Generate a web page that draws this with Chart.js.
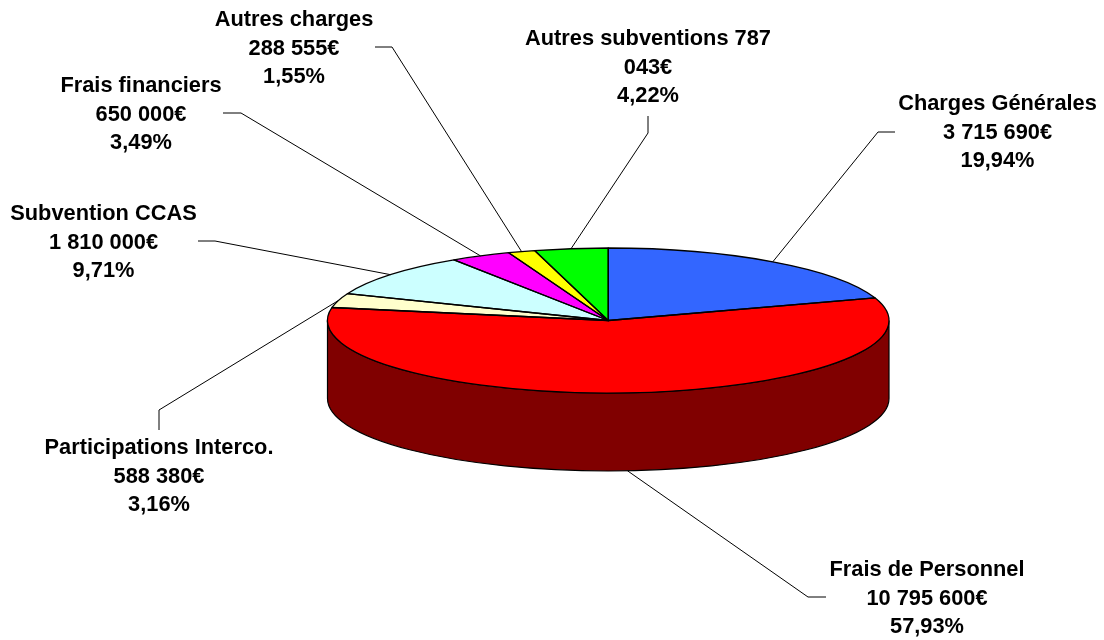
<!DOCTYPE html>
<html><head><meta charset="utf-8">
<style>html,body{margin:0;padding:0;background:#fff}canvas{display:block}</style>
<script src="https://cdn.jsdelivr.net/npm/chart.js@4"></script>
</head><body><canvas id="c" width="1104" height="640"></canvas>
<script>
const categories = ["Charges Générales","Frais de Personnel","Participations Interco.","Subvention CCAS","Frais financiers","Autres charges","Autres subventions 787"];
const amounts = [3715690,10795600,588380,1810000,650000,288555,787043];
const amountLabels = ["3 715 690€","10 795 600€","588 380€","1 810 000€","650 000€","288 555€","043€"];
const percentLabels = ["19,94%","57,93%","3,16%","9,71%","3,49%","1,55%","4,22%"];
const sliceColors = ["#3366FF","#FF0000","#FFFFCC","#CCFFFF","#FF00FF","#FFFF00","#00FF00"];
const wallColors = ["#19337F","#800000","#80805F","#5F8080","#800080","#808000","#008000"];

// Layout of the text blocks: [centre x, first-line y]
const labelAnchors = [[997.5,104],[927,570],[159,448],[103.5,214],[141,86],[294,20],[648,39]];
// Leader polylines from the rim: elbow then end
const leaderPaths = [[[878,132],[895,132]],[[808,597],[826,597]],[[159,410],[159,430]],[[215,241],[198,241]],[[241,113],[223,113]],[[392,47],[375,47]],[[648,133],[648,116]]];
const squash = 72.5/280.75, depth = 78, lineGap = 28.5;

const pie3d = {
  id:'pie3d',
  beforeDatasetsDraw(chart){
    const ctx=chart.ctx, arcs=chart.getDatasetMeta(0).data, a0=arcs[0];
    const cx=a0.x, cy=a0.y, R=a0.outerRadius, ry=R*squash;
    arcs.forEach((arc,i)=>{
      const a=Math.max(arc.startAngle,0), b=Math.min(arc.endAngle,Math.PI);
      if(b<=a) return;
      ctx.beginPath();
      ctx.ellipse(cx,cy,R,ry,0,a,b);
      ctx.ellipse(cx,cy+depth,R,ry,0,b,a,true);
      ctx.closePath();
      ctx.fillStyle=wallColors[i]; ctx.fill();
      ctx.strokeStyle='#000'; ctx.lineWidth=1.2; ctx.stroke();
    });
    ctx.save();
    ctx.translate(cx,cy); ctx.scale(1,squash); ctx.translate(-cx,-cy);
  },
  afterDatasetsDraw(chart){
    const ctx=chart.ctx, arcs=chart.getDatasetMeta(0).data, a0=arcs[0];
    ctx.restore();
    const cx=a0.x, cy=a0.y, R=a0.outerRadius, ry=R*squash;
    ctx.strokeStyle='#000'; ctx.lineWidth=1.3; ctx.lineJoin='round';
    arcs.forEach(arc=>{
      ctx.beginPath();
      ctx.moveTo(cx,cy);
      ctx.ellipse(cx,cy,R,ry,0,arc.startAngle,arc.endAngle);
      ctx.closePath();
      ctx.stroke();
    });
    ctx.lineWidth=1; ctx.strokeStyle='#000';
    arcs.forEach((arc,i)=>{
      const m=(arc.startAngle+arc.endAngle)/2;
      const s=Math.sin(m)>0.5?depth:0;
      ctx.beginPath();
      ctx.moveTo(cx+R*Math.cos(m),cy+ry*Math.sin(m)+s);
      leaderPaths[i].forEach(p=>ctx.lineTo(p[0],p[1]));
      ctx.stroke();
    });
    ctx.fillStyle='#000';
    ctx.font='bold 21.8px "Liberation Sans", Arial, sans-serif';
    ctx.textAlign='center'; ctx.textBaseline='middle';
    categories.forEach((name,i)=>{
      const [x,y]=labelAnchors[i];
      [name,amountLabels[i],percentLabels[i]].forEach((t,k)=>ctx.fillText(t,x,y+k*lineGap));
    });
  }
};

new Chart(document.getElementById('c'),{
  type:'pie',
  data:{labels:categories,datasets:[{data:amounts,backgroundColor:sliceColors,borderWidth:0}]},
  options:{
    responsive:false,animation:false,
    layout:{padding:{left:327.5,right:215,top:39.75,bottom:38.75}},
    plugins:{legend:{display:false},tooltip:{enabled:false},title:{display:false}}
  },
  plugins:[pie3d]
});
</script></body></html>
